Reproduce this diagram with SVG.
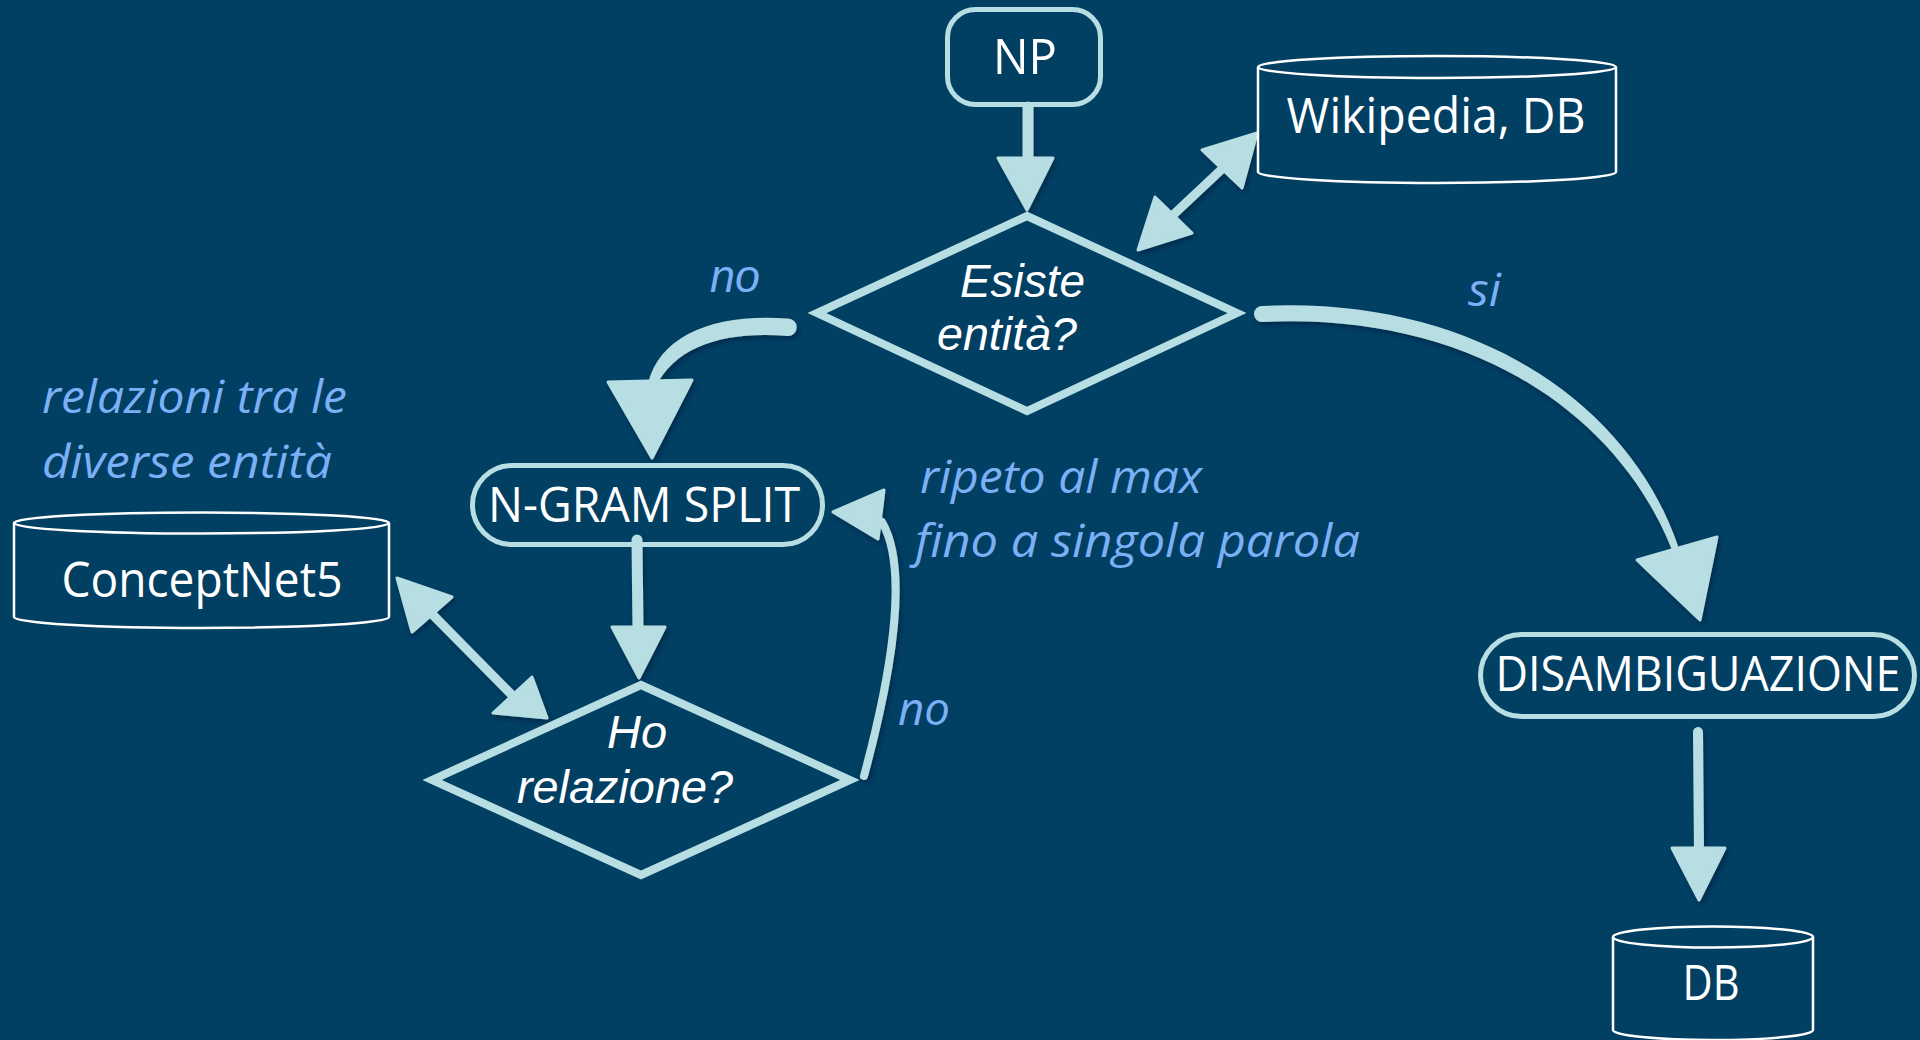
<svg xmlns="http://www.w3.org/2000/svg" width="1920" height="1040" viewBox="0 0 1920 1040">
<style>
.box{fill:none;stroke:#b7dee2;stroke-width:5}
.dia{fill:none;stroke:#b7dee2;stroke-width:8;stroke-linejoin:miter}
.cyl{fill:none;stroke:#ffffff;stroke-width:2.5}
.lbl{font-family:"Open Sans","Noto Sans",sans-serif;font-size:49px;fill:#ffffff;text-anchor:middle}
.q{font-family:"Liberation Sans",Arial,sans-serif;font-style:italic;font-size:46.5px;fill:#ffffff}
.note{font-family:"Open Sans","Noto Sans",sans-serif;font-style:italic;font-size:46px;fill:#7cb0f6}
.noteA{font-family:"Liberation Sans",Arial,sans-serif;font-style:italic;font-size:46.5px;fill:#7cb0f6}
.shaft{fill:none;stroke:#b7dee2;stroke-linecap:round}
.head{fill:#b7dee2;stroke:#b7dee2;stroke-width:3;stroke-linejoin:round}
.body{fill:#b7dee2}
</style>
<defs>
<filter id="sh" x="-20%" y="-20%" width="140%" height="140%">
<feDropShadow dx="2" dy="3" stdDeviation="2" flood-color="#00233a" flood-opacity="0.6"/>
</filter>
</defs>
<rect x="0" y="0" width="1920" height="1040" fill="#013f63"/>

<g id="connectors" filter="url(#sh)">
<!-- NP -> Esiste -->
<line class="shaft" x1="1028" y1="107" x2="1028" y2="165" stroke-width="11"/>
<polygon class="head" points="998,158 1053,158 1027,210"/>
<!-- Esiste <-> Wikipedia -->
<line class="shaft" x1="1173" y1="215" x2="1222" y2="169" stroke-width="9"/>
<polygon class="head" points="1138,250 1155,197 1192,233"/>
<polygon class="head" points="1257,133 1202,150 1242,188"/>
<!-- Esiste no -> N-GRAM -->
<path class="body" d="M788,318.5 C716,313 660,334 648,383.5 L656,386.5 C676,346 724,331 788,336 A8.75,8.75 0 0 0 788,318.5 Z"/>
<polygon class="head" points="608,382 692,380 652,458"/>
<!-- Esiste si -> DISAMBIGUAZIONE -->
<path class="body" d="M1262,306 C1475,296 1630,404 1678.3,546.7 L1671.7,549.3 C1617,412 1469,312 1262,322 A8,8 0 0 1 1262,306 Z"/>
<polygon class="head" points="1637,560 1717,537 1700,620"/>
<!-- N-GRAM -> Ho relazione -->
<line class="shaft" x1="637" y1="540" x2="638" y2="630" stroke-width="11"/>
<polygon class="head" points="612,627 665,627 639,678"/>
<!-- Ho relazione no -> N-GRAM -->
<path class="shaft" d="M864,776 C890,680 910,570 882,522" stroke-width="8"/>
<polygon class="head" points="833,512 884,490 878,539"/>
<!-- ConceptNet5 <-> Ho relazione -->
<line class="shaft" x1="432" y1="614" x2="512" y2="695" stroke-width="9"/>
<polygon class="head" points="397,578 452,597 412,632"/>
<polygon class="head" points="547,718 532,677 493,713"/>
<!-- DISAMBIGUAZIONE -> DB -->
<line class="shaft" x1="1698" y1="732" x2="1699" y2="852" stroke-width="10"/>
<polygon class="head" points="1672,848 1725,848 1699,900"/>
</g>

<g id="np">
<rect class="box" x="947.5" y="9.5" width="153" height="95" rx="28"/>
<text class="lbl" x="1025" y="74" textLength="64" lengthAdjust="spacingAndGlyphs">NP</text>
</g>

<g id="wikipedia">
<path class="cyl" d="M1258,67 L1258,172 A179,11 0 0 0 1616,172 L1616,67"/>
<ellipse class="cyl" cx="1437" cy="67" rx="179" ry="11"/>
<text class="lbl" x="1436" y="133" textLength="299" lengthAdjust="spacingAndGlyphs">Wikipedia, DB</text>
</g>

<g id="esiste">
<polygon class="dia" points="1027,216 1237,313 1027,411 817,313"/>
<text class="q" x="960" y="297" textLength="125" lengthAdjust="spacingAndGlyphs">Esiste</text>
<text class="q" x="937" y="350" textLength="140" lengthAdjust="spacingAndGlyphs">entità?</text>
</g>

<g id="ngram">
<rect class="box" x="472.5" y="465.5" width="350" height="79" rx="39.5"/>
<text class="lbl" x="644" y="522" textLength="312" lengthAdjust="spacingAndGlyphs">N-GRAM SPLIT</text>
</g>

<g id="horelazione">
<polygon class="dia" points="641,685 850,780 641,875 432,780"/>
<text class="q" x="607" y="748" textLength="60" lengthAdjust="spacingAndGlyphs">Ho</text>
<text class="q" x="517" y="803" textLength="216" lengthAdjust="spacingAndGlyphs">relazione?</text>
</g>

<g id="conceptnet">
<path class="cyl" d="M14,523 L14,617 A187.5,11 0 0 0 389,617 L389,523"/>
<ellipse class="cyl" cx="201.5" cy="523" rx="187.5" ry="10.5"/>
<text class="lbl" x="202" y="597" textLength="281" lengthAdjust="spacingAndGlyphs">ConceptNet5</text>
</g>

<g id="disambiguazione">
<rect class="box" x="1480.5" y="634.5" width="434" height="82" rx="41"/>
<text class="lbl" x="1698" y="691" font-size="46" textLength="405" lengthAdjust="spacingAndGlyphs">DISAMBIGUAZIONE</text>
</g>

<g id="db">
<path class="cyl" d="M1613,937 L1613,1030 A100,10 0 0 0 1813,1030 L1813,937"/>
<ellipse class="cyl" cx="1713" cy="937" rx="100" ry="10.5"/>
<text class="lbl" x="1711" y="1000" textLength="57" lengthAdjust="spacingAndGlyphs">DB</text>
</g>

<g id="labels">
<text class="noteA" x="710" y="292" textLength="50" lengthAdjust="spacingAndGlyphs">no</text>
<text class="note" x="1468" y="306" textLength="33" lengthAdjust="spacingAndGlyphs">si</text>
<text class="note" x="42" y="413" textLength="305" lengthAdjust="spacingAndGlyphs">relazioni tra le</text>
<text class="note" x="42" y="478" textLength="290" lengthAdjust="spacingAndGlyphs">diverse entità</text>
<text class="note" x="920" y="493" textLength="282" lengthAdjust="spacingAndGlyphs">ripeto al max</text>
<text class="note" x="915" y="557" textLength="445" lengthAdjust="spacingAndGlyphs">fino a singola parola</text>
<text class="note" x="898" y="725" textLength="52" lengthAdjust="spacingAndGlyphs">no</text>
</g>
</svg>
